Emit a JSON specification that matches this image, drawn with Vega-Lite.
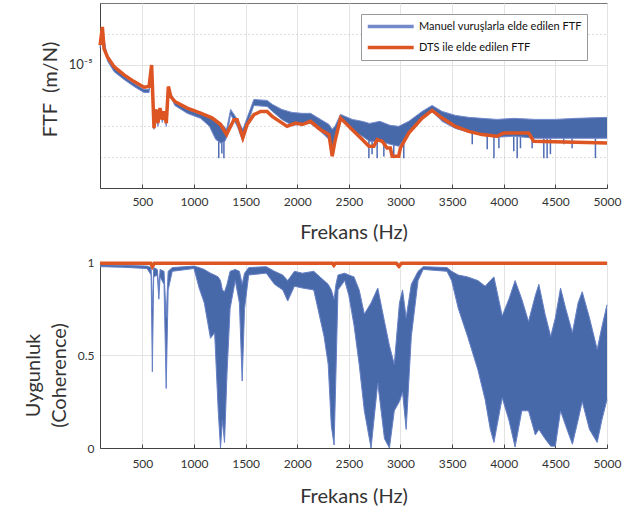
{
  "$schema": "https://vega.github.io/schema/vega-lite/v6.json",
  "background": "white",
  "padding": {"left": 22, "top": 2, "right": 0, "bottom": 0},
  "spacing": 12,
  "config": {
    "font": "Lato",
    "view": {"stroke": "#777", "strokeWidth": 1},
    "axis": {
      "labelFont": "Lato", "labelFontSize": 12, "labelColor": "#333",
      "titleFont": "Lato", "titleFontSize": 20, "titleFontWeight": "normal", "titleColor": "#333",
      "domainColor": "#444", "tickColor": "#444", "gridColor": "#e3e3e3", "gridWidth": 1
    }
  },
  "resolve": {"scale": {"color": "independent"}, "legend": {"color": "independent"}},
  "datasets": {
    "ftfBand": [
      {"f": 90, "hi": 1.442e-5, "lo": 1.371e-5},
      {"f": 113, "hi": 1.95e-5, "lo": 1.845e-5},
      {"f": 161, "hi": 1.139e-5, "lo": 1.077e-5},
      {"f": 226, "hi": 9.46e-6, "lo": 8.78e-6},
      {"f": 323, "hi": 8.0e-6, "lo": 7.57e-6},
      {"f": 420, "hi": 7.03e-6, "lo": 6.65e-6},
      {"f": 516, "hi": 6.29e-6, "lo": 5.94e-6},
      {"f": 565, "hi": 6.29e-6, "lo": 5.94e-6},
      {"f": 590, "hi": 9.64e-6, "lo": 9.11e-6},
      {"f": 613, "hi": 3.16e-6, "lo": 2.99e-6},
      {"f": 632, "hi": 4.34e-6, "lo": 4.1e-6},
      {"f": 651, "hi": 3.34e-6, "lo": 3.16e-6},
      {"f": 671, "hi": 4.45e-6, "lo": 4.18e-6},
      {"f": 694, "hi": 3.6e-6, "lo": 3.4e-6},
      {"f": 710, "hi": 4.18e-6, "lo": 3.95e-6},
      {"f": 732, "hi": 3.34e-6, "lo": 3.16e-6},
      {"f": 752, "hi": 6.52e-6, "lo": 6.17e-6},
      {"f": 814, "hi": 4.94e-6, "lo": 4.67e-6},
      {"f": 935, "hi": 4.34e-6, "lo": 4.03e-6},
      {"f": 1064, "hi": 3.95e-6, "lo": 3.67e-6},
      {"f": 1150, "hi": 3.81e-6, "lo": 3.16e-6},
      {"f": 1210, "hi": 3.6e-6, "lo": 2.48e-6},
      {"f": 1260, "hi": 3.34e-6, "lo": 2.31e-6},
      {"f": 1300, "hi": 3.1e-6, "lo": 2.39e-6},
      {"f": 1316, "hi": 2.99e-6, "lo": 2.58e-6},
      {"f": 1355, "hi": 4.34e-6, "lo": 3.95e-6},
      {"f": 1420, "hi": 3.6e-6, "lo": 3.16e-6},
      {"f": 1473, "hi": 2.99e-6, "lo": 2.39e-6},
      {"f": 1520, "hi": 3.81e-6, "lo": 3.34e-6},
      {"f": 1580, "hi": 5.22e-6, "lo": 4.67e-6},
      {"f": 1708, "hi": 5.13e-6, "lo": 4.58e-6},
      {"f": 1760, "hi": 4.76e-6, "lo": 4.18e-6},
      {"f": 1850, "hi": 4.34e-6, "lo": 3.6e-6},
      {"f": 1950, "hi": 4.1e-6, "lo": 3.22e-6},
      {"f": 2049, "hi": 4.03e-6, "lo": 3.28e-6},
      {"f": 2129, "hi": 4.03e-6, "lo": 3.34e-6},
      {"f": 2226, "hi": 3.6e-6, "lo": 2.88e-6},
      {"f": 2307, "hi": 3.28e-6, "lo": 2.48e-6},
      {"f": 2339, "hi": 2.99e-6, "lo": 1.99e-6},
      {"f": 2365, "hi": 3.16e-6, "lo": 2.48e-6},
      {"f": 2420, "hi": 3.95e-6, "lo": 3.6e-6},
      {"f": 2533, "hi": 3.6e-6, "lo": 2.88e-6},
      {"f": 2630, "hi": 3.47e-6, "lo": 2.63e-6},
      {"f": 2700, "hi": 3.34e-6, "lo": 2.39e-6},
      {"f": 2800, "hi": 3.47e-6, "lo": 2.39e-6},
      {"f": 2900, "hi": 3.22e-6, "lo": 2.26e-6},
      {"f": 2983, "hi": 3.16e-6, "lo": 2.18e-6},
      {"f": 3080, "hi": 3.47e-6, "lo": 2.72e-6},
      {"f": 3210, "hi": 4.18e-6, "lo": 3.6e-6},
      {"f": 3306, "hi": 4.67e-6, "lo": 4.18e-6},
      {"f": 3403, "hi": 4.18e-6, "lo": 3.47e-6},
      {"f": 3532, "hi": 3.88e-6, "lo": 3.04e-6},
      {"f": 3661, "hi": 3.74e-6, "lo": 2.83e-6},
      {"f": 3790, "hi": 3.67e-6, "lo": 2.68e-6},
      {"f": 3935, "hi": 3.6e-6, "lo": 2.58e-6},
      {"f": 4100, "hi": 3.67e-6, "lo": 2.63e-6},
      {"f": 4300, "hi": 3.6e-6, "lo": 2.53e-6},
      {"f": 4500, "hi": 3.6e-6, "lo": 2.53e-6},
      {"f": 4700, "hi": 3.67e-6, "lo": 2.53e-6},
      {"f": 5000, "hi": 3.74e-6, "lo": 2.53e-6}
    ],
    "ftfSpikes": [
      {"f": 1240, "lo": 1.746e-6, "hi": 2.4e-6},
      {"f": 1270, "lo": 1.9e-6, "hi": 2.35e-6},
      {"f": 1290, "lo": 1.746e-6, "hi": 2.4e-6},
      {"f": 2694, "lo": 1.746e-6, "hi": 2.4e-6},
      {"f": 2725, "lo": 1.88e-6, "hi": 2.39e-6},
      {"f": 2774, "lo": 1.746e-6, "hi": 2.39e-6},
      {"f": 2839, "lo": 1.8e-6, "hi": 2.35e-6},
      {"f": 2935, "lo": 1.746e-6, "hi": 2.23e-6},
      {"f": 3032, "lo": 1.746e-6, "hi": 2.4e-6},
      {"f": 3695, "lo": 2.264e-6, "hi": 2.8e-6},
      {"f": 3840, "lo": 2.06e-6, "hi": 2.65e-6},
      {"f": 3905, "lo": 1.746e-6, "hi": 2.6e-6},
      {"f": 3953, "lo": 2.1e-6, "hi": 2.58e-6},
      {"f": 4097, "lo": 1.99e-6, "hi": 2.63e-6},
      {"f": 4130, "lo": 1.746e-6, "hi": 2.63e-6},
      {"f": 4162, "lo": 2.1e-6, "hi": 2.6e-6},
      {"f": 4275, "lo": 2.1e-6, "hi": 2.55e-6},
      {"f": 4388, "lo": 1.746e-6, "hi": 2.53e-6},
      {"f": 4420, "lo": 1.746e-6, "hi": 2.53e-6},
      {"f": 4452, "lo": 1.88e-6, "hi": 2.53e-6},
      {"f": 4581, "lo": 2.264e-6, "hi": 2.53e-6},
      {"f": 4662, "lo": 2.1e-6, "hi": 2.53e-6},
      {"f": 4888, "lo": 1.746e-6, "hi": 2.53e-6}
    ],
    "ftfDTS": [
      {"f": 91, "ftf": 1.44e-5}, {"f": 113, "ftf": 2.02e-5}, {"f": 129, "ftf": 1.35e-5},
      {"f": 161, "ftf": 1.16e-5}, {"f": 226, "ftf": 9.64e-6}, {"f": 323, "ftf": 8.26e-6},
      {"f": 420, "ftf": 7.29e-6}, {"f": 516, "ftf": 6.56e-6}, {"f": 565, "ftf": 6.65e-6},
      {"f": 590, "ftf": 9.94e-6}, {"f": 613, "ftf": 3.06e-6}, {"f": 632, "ftf": 4.34e-6},
      {"f": 651, "ftf": 3.36e-6}, {"f": 671, "ftf": 4.45e-6}, {"f": 694, "ftf": 3.58e-6},
      {"f": 710, "ftf": 4.18e-6}, {"f": 732, "ftf": 3.36e-6}, {"f": 752, "ftf": 6.65e-6},
      {"f": 775, "ftf": 5.52e-6}, {"f": 814, "ftf": 5.03e-6}, {"f": 935, "ftf": 4.45e-6},
      {"f": 1064, "ftf": 4.05e-6}, {"f": 1178, "ftf": 3.69e-6}, {"f": 1258, "ftf": 3.27e-6},
      {"f": 1316, "ftf": 2.71e-6}, {"f": 1338, "ftf": 2.97e-6}, {"f": 1387, "ftf": 3.58e-6},
      {"f": 1418, "ftf": 3.58e-6}, {"f": 1473, "ftf": 2.55e-6}, {"f": 1515, "ftf": 3.27e-6},
      {"f": 1580, "ftf": 3.93e-6}, {"f": 1645, "ftf": 4.18e-6}, {"f": 1708, "ftf": 4.18e-6},
      {"f": 1757, "ftf": 3.81e-6}, {"f": 1902, "ftf": 3.16e-6}, {"f": 1983, "ftf": 3.36e-6},
      {"f": 2049, "ftf": 3.27e-6}, {"f": 2129, "ftf": 3.47e-6}, {"f": 2226, "ftf": 2.97e-6},
      {"f": 2307, "ftf": 2.71e-6}, {"f": 2339, "ftf": 1.81e-6}, {"f": 2365, "ftf": 2.39e-6},
      {"f": 2420, "ftf": 3.69e-6}, {"f": 2533, "ftf": 2.97e-6}, {"f": 2630, "ftf": 2.47e-6},
      {"f": 2694, "ftf": 2.18e-6}, {"f": 2742, "ftf": 2.18e-6}, {"f": 2774, "ftf": 2.47e-6},
      {"f": 2823, "ftf": 2.39e-6}, {"f": 2870, "ftf": 2.11e-6}, {"f": 2902, "ftf": 2.11e-6},
      {"f": 2919, "ftf": 1.81e-6}, {"f": 2983, "ftf": 1.81e-6}, {"f": 2999, "ftf": 2.11e-6},
      {"f": 3080, "ftf": 2.79e-6}, {"f": 3210, "ftf": 3.69e-6}, {"f": 3306, "ftf": 4.26e-6},
      {"f": 3403, "ftf": 3.69e-6}, {"f": 3532, "ftf": 3.16e-6}, {"f": 3661, "ftf": 2.88e-6},
      {"f": 3790, "ftf": 2.71e-6}, {"f": 3935, "ftf": 2.63e-6}, {"f": 3967, "ftf": 2.71e-6},
      {"f": 4000, "ftf": 2.79e-6}, {"f": 4242, "ftf": 2.79e-6}, {"f": 4290, "ftf": 2.39e-6},
      {"f": 5000, "ftf": 2.32e-6}
    ],
    "cohBand": [
      {"f": 90, "hi": 0.985, "lo": 0.975}, {"f": 300, "hi": 0.982, "lo": 0.972},
      {"f": 545, "hi": 0.978, "lo": 0.965}, {"f": 585, "hi": 0.97, "lo": 0.93},
      {"f": 597, "hi": 0.75, "lo": 0.41}, {"f": 610, "hi": 0.97, "lo": 0.92},
      {"f": 645, "hi": 0.96, "lo": 0.93}, {"f": 660, "hi": 0.86, "lo": 0.8},
      {"f": 672, "hi": 0.96, "lo": 0.92}, {"f": 710, "hi": 0.95, "lo": 0.88},
      {"f": 731, "hi": 0.7, "lo": 0.32}, {"f": 750, "hi": 0.95, "lo": 0.85},
      {"f": 790, "hi": 0.97, "lo": 0.95}, {"f": 1000, "hi": 0.978, "lo": 0.965},
      {"f": 1050, "hi": 0.97, "lo": 0.86}, {"f": 1100, "hi": 0.96, "lo": 0.78},
      {"f": 1160, "hi": 0.94, "lo": 0.59}, {"f": 1200, "hi": 0.93, "lo": 0.62},
      {"f": 1235, "hi": 0.92, "lo": 0.2}, {"f": 1257, "hi": 0.9, "lo": 0.0},
      {"f": 1275, "hi": 0.85, "lo": 0.15}, {"f": 1296, "hi": 0.84, "lo": 0.03},
      {"f": 1320, "hi": 0.88, "lo": 0.4}, {"f": 1350, "hi": 0.95, "lo": 0.75},
      {"f": 1400, "hi": 0.96, "lo": 0.9}, {"f": 1440, "hi": 0.95, "lo": 0.78},
      {"f": 1467, "hi": 0.88, "lo": 0.36}, {"f": 1490, "hi": 0.94, "lo": 0.75},
      {"f": 1530, "hi": 0.97, "lo": 0.93}, {"f": 1700, "hi": 0.975, "lo": 0.94},
      {"f": 1780, "hi": 0.95, "lo": 0.88}, {"f": 1860, "hi": 0.93, "lo": 0.85},
      {"f": 1908, "hi": 0.9, "lo": 0.79}, {"f": 1973, "hi": 0.95, "lo": 0.87},
      {"f": 2050, "hi": 0.94, "lo": 0.86}, {"f": 2160, "hi": 0.95, "lo": 0.85},
      {"f": 2200, "hi": 0.93, "lo": 0.75}, {"f": 2260, "hi": 0.9, "lo": 0.6},
      {"f": 2300, "hi": 0.88, "lo": 0.45}, {"f": 2330, "hi": 0.85, "lo": 0.12},
      {"f": 2357, "hi": 0.8, "lo": 0.016}, {"f": 2375, "hi": 0.88, "lo": 0.4},
      {"f": 2395, "hi": 0.93, "lo": 0.85}, {"f": 2460, "hi": 0.94, "lo": 0.9},
      {"f": 2500, "hi": 0.93, "lo": 0.82}, {"f": 2550, "hi": 0.92, "lo": 0.66},
      {"f": 2600, "hi": 0.85, "lo": 0.45}, {"f": 2650, "hi": 0.72, "lo": 0.2},
      {"f": 2715, "hi": 0.78, "lo": 0.0}, {"f": 2780, "hi": 0.86, "lo": 0.35},
      {"f": 2845, "hi": 0.68, "lo": 0.05}, {"f": 2893, "hi": 0.55, "lo": 0.0},
      {"f": 2940, "hi": 0.45, "lo": 0.2}, {"f": 2990, "hi": 0.78, "lo": 0.25},
      {"f": 3020, "hi": 0.85, "lo": 0.3}, {"f": 3055, "hi": 0.7, "lo": 0.1},
      {"f": 3105, "hi": 0.88, "lo": 0.6}, {"f": 3170, "hi": 0.95, "lo": 0.9},
      {"f": 3220, "hi": 0.975, "lo": 0.96}, {"f": 3450, "hi": 0.97, "lo": 0.95},
      {"f": 3495, "hi": 0.95, "lo": 0.9}, {"f": 3560, "hi": 0.93, "lo": 0.75},
      {"f": 3650, "hi": 0.92, "lo": 0.6}, {"f": 3750, "hi": 0.9, "lo": 0.42},
      {"f": 3820, "hi": 0.87, "lo": 0.26}, {"f": 3870, "hi": 0.9, "lo": 0.1},
      {"f": 3905, "hi": 0.92, "lo": 0.03}, {"f": 3985, "hi": 0.71, "lo": 0.27},
      {"f": 4050, "hi": 0.8, "lo": 0.15}, {"f": 4110, "hi": 0.9, "lo": 0.005},
      {"f": 4175, "hi": 0.8, "lo": 0.2}, {"f": 4240, "hi": 0.68, "lo": 0.2},
      {"f": 4306, "hi": 0.82, "lo": 0.07}, {"f": 4340, "hi": 0.88, "lo": 0.1},
      {"f": 4400, "hi": 0.72, "lo": 0.05}, {"f": 4455, "hi": 0.6, "lo": 0.01},
      {"f": 4500, "hi": 0.7, "lo": 0.01}, {"f": 4550, "hi": 0.86, "lo": 0.2},
      {"f": 4600, "hi": 0.75, "lo": 0.12}, {"f": 4665, "hi": 0.62, "lo": 0.02},
      {"f": 4720, "hi": 0.78, "lo": 0.15}, {"f": 4760, "hi": 0.84, "lo": 0.25},
      {"f": 4830, "hi": 0.7, "lo": 0.1}, {"f": 4905, "hi": 0.53, "lo": 0.03},
      {"f": 4950, "hi": 0.65, "lo": 0.15}, {"f": 5000, "hi": 0.77, "lo": 0.26}
    ],
    "cohDTS": [
      {"f": 90, "coh": 0.993}, {"f": 580, "coh": 0.993}, {"f": 597, "coh": 0.975},
      {"f": 615, "coh": 0.993}, {"f": 2340, "coh": 0.993}, {"f": 2355, "coh": 0.982},
      {"f": 2370, "coh": 0.993}, {"f": 2960, "coh": 0.993}, {"f": 2985, "coh": 0.977},
      {"f": 3010, "coh": 0.993}, {"f": 5000, "coh": 0.993}
    ]
  },
  "vconcat": [
    {
      "width": 507,
      "height": 185,
      "layer": [
        {
          "data": {"name": "ftfBand"},
          "mark": {"type": "area", "color": "#3E61A4", "opacity": 0.95},
          "encoding": {
            "x": {"field": "f", "type": "quantitative", "scale": {"domain": [90, 5000], "nice": false, "zero": false},
              "axis": {"values": [500, 1000, 1500, 2000, 2500, 3000, 3500, 4000, 4500, 5000], "format": "d", "title": "Frekans (Hz)", "grid": true, "tickSize": -4, "labelPadding": 12, "titlePadding": 15, "labelFlush": false}},
            "y": {"field": "lo", "type": "quantitative", "scale": {"type": "log", "domain": [1e-6, 3.1623e-5], "nice": false},
              "axis": {"values": [1.7783e-5, 1e-5, 5.6234e-6, 3.1623e-6, 1.7783e-6], "title": "FTF\u00a0 (m/N)", "grid": true, "ticks": false,
                "labelExpr": "abs(log(datum.value)/LN10 + 5) < 0.01 ? '10⁻⁵' : ''", "labelFontSize": 13,
                "gridDash": {"condition": {"test": "abs(log(datum.value)/LN10 + 5) < 0.01", "value": []}, "value": [1, 3]},
                "gridColor": {"condition": {"test": "abs(log(datum.value)/LN10 + 5) < 0.01", "value": "#e3e3e3"}, "value": "#bbbbbb"},
                "labelPadding": 8, "titlePadding": 8, "titleY": 86}},
            "y2": {"field": "hi"}
          }
        },
        {
          "data": {"name": "ftfSpikes"},
          "mark": {"type": "rule", "color": "#4F6DB4", "strokeWidth": 1.5},
          "encoding": {
            "x": {"field": "f", "type": "quantitative"},
            "y": {"field": "lo", "type": "quantitative"},
            "y2": {"field": "hi"}
          }
        },
        {
          "data": {"name": "ftfBand"},
          "mark": {"type": "line", "strokeWidth": 1},
          "encoding": {
            "x": {"field": "f", "type": "quantitative"},
            "y": {"field": "hi", "type": "quantitative"},
            "color": {"datum": "Manuel vuruşlarla elde edilen FTF", "type": "nominal",
              "scale": {"domain": ["Manuel vuruşlarla elde edilen FTF", "DTS ile elde edilen FTF"], "range": ["#7389CC", "#DD5522"]},
              "legend": {"title": null, "orient": "none", "legendX": 261, "legendY": 11, "symbolType": "M-1,0H7", "symbolSize": 132,
                "symbolStrokeWidth": 3.5, "labelFont": "Lato", "labelFontSize": 11, "labelLimit": 0, "labelOffset": 38, "labelColor": "#111",
                "fillColor": "white", "strokeColor": "#999", "padding": 5, "rowPadding": 6}}
          }
        },
        {
          "data": {"name": "ftfBand"},
          "mark": {"type": "line", "strokeWidth": 1},
          "encoding": {
            "x": {"field": "f", "type": "quantitative"},
            "y": {"field": "lo", "type": "quantitative"},
            "color": {"datum": "Manuel vuruşlarla elde edilen FTF", "type": "nominal"}
          }
        },
        {
          "data": {"name": "ftfDTS"},
          "mark": {"type": "line", "strokeWidth": 3.5},
          "encoding": {
            "x": {"field": "f", "type": "quantitative"},
            "y": {"field": "ftf", "type": "quantitative"},
            "color": {"datum": "DTS ile elde edilen FTF", "type": "nominal"}
          }
        }
      ]
    },
    {
      "width": 507,
      "height": 186,
      "layer": [
        {
          "data": {"name": "cohBand"},
          "mark": {"type": "area", "color": "#3E61A4", "opacity": 0.95},
          "encoding": {
            "x": {"field": "f", "type": "quantitative", "scale": {"domain": [90, 5000], "nice": false, "zero": false},
              "axis": {"values": [500, 1000, 1500, 2000, 2500, 3000, 3500, 4000, 4500, 5000], "format": "d", "title": "Frekans (Hz)", "grid": true, "tickSize": -4, "labelPadding": 14, "titlePadding": 17, "labelFlush": false}},
            "y": {"field": "lo", "type": "quantitative", "scale": {"domain": [0, 1], "nice": false},
              "axis": {"values": [0, 0.5, 1], "format": "~g", "title": ["Uygunluk", "(Coherence)"], "titleLineHeight": 26, "grid": true, "ticks": false,
                "labelPadding": 6, "titlePadding": 8, "titleY": 113}},
            "y2": {"field": "hi"}
          }
        },
        {
          "data": {"name": "cohBand"},
          "mark": {"type": "line", "strokeWidth": 1, "color": "#6680C6"},
          "encoding": {
            "x": {"field": "f", "type": "quantitative"},
            "y": {"field": "hi", "type": "quantitative"}
          }
        },
        {
          "data": {"name": "cohBand"},
          "mark": {"type": "line", "strokeWidth": 1, "color": "#6680C6"},
          "encoding": {
            "x": {"field": "f", "type": "quantitative"},
            "y": {"field": "lo", "type": "quantitative"}
          }
        },
        {
          "data": {"name": "cohDTS"},
          "mark": {"type": "line", "strokeWidth": 3.5, "color": "#DD5522"},
          "encoding": {
            "x": {"field": "f", "type": "quantitative"},
            "y": {"field": "coh", "type": "quantitative"}
          }
        }
      ]
    }
  ]
}
